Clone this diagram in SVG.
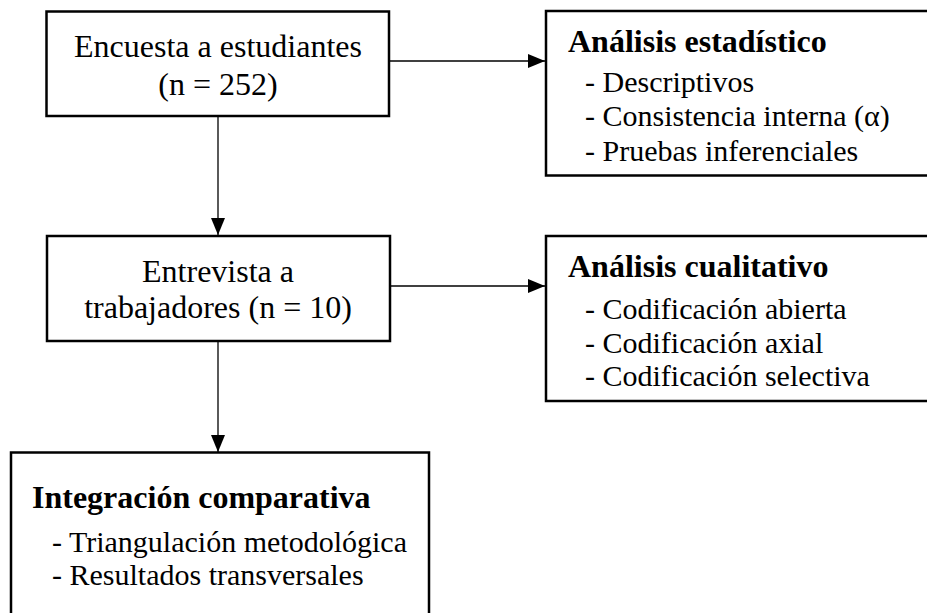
<svg xmlns="http://www.w3.org/2000/svg" width="927" height="613" viewBox="0 0 927 613">
<style>
.box{fill:#fff;stroke:#000;stroke-width:2.5}
.t{font-family:"Liberation Serif","Times New Roman",serif;font-size:32px;fill:#000}
.c{text-anchor:middle}
.h{font-weight:bold}
.i{font-size:30px}
.ln{stroke:#000;stroke-width:1.3;fill:none}
</style>
<defs>
<marker id="ah" markerUnits="userSpaceOnUse" markerWidth="17" markerHeight="14" refX="17" refY="7" orient="auto">
<path d="M0,0 L17,7 L0,14 z" fill="#000"/>
</marker>
</defs>
<g id="connectors">
<line class="ln" x1="389" y1="61" x2="545" y2="61" marker-end="url(#ah)"/>
<line class="ln" x1="218" y1="116" x2="218" y2="235" marker-end="url(#ah)"/>
<line class="ln" x1="390" y1="286" x2="545" y2="286" marker-end="url(#ah)"/>
<line class="ln" x1="218" y1="341" x2="218" y2="452" marker-end="url(#ah)"/>
</g>
<g id="encuesta">
<rect class="box" x="46.5" y="11.5" width="342.5" height="104.5"/>
<text class="t c" x="218" y="57">Encuesta a estudiantes</text>
<text class="t c" x="218" y="95">(n = 252)</text>
</g>
<g id="analisis-estadistico">
<rect class="box" x="546" y="11" width="390" height="164.5"/>
<text class="t h" x="568" y="52">Análisis estadístico</text>
<text class="t i" x="585" y="91.5">- Descriptivos</text>
<text class="t i" x="585" y="126">- Consistencia interna (α)</text>
<text class="t i" x="585" y="161">- Pruebas inferenciales</text>
</g>
<g id="entrevista">
<rect class="box" x="47" y="236" width="343" height="105"/>
<text class="t c" x="218" y="282">Entrevista a</text>
<text class="t c" x="218" y="318">trabajadores (n = 10)</text>
</g>
<g id="analisis-cualitativo">
<rect class="box" x="546" y="236" width="390" height="165"/>
<text class="t h" x="568" y="277">Análisis cualitativo</text>
<text class="t i" x="585" y="319">- Codificación abierta</text>
<text class="t i" x="585" y="353">- Codificación axial</text>
<text class="t i" x="585" y="386">- Codificación selectiva</text>
</g>
<g id="integracion">
<rect class="box" x="11" y="452.5" width="418" height="170"/>
<text class="t h" x="32" y="508">Integración comparativa</text>
<text class="t i" x="52" y="552">- Triangulación metodológica</text>
<text class="t i" x="52" y="585">- Resultados transversales</text>
</g>
</svg>
